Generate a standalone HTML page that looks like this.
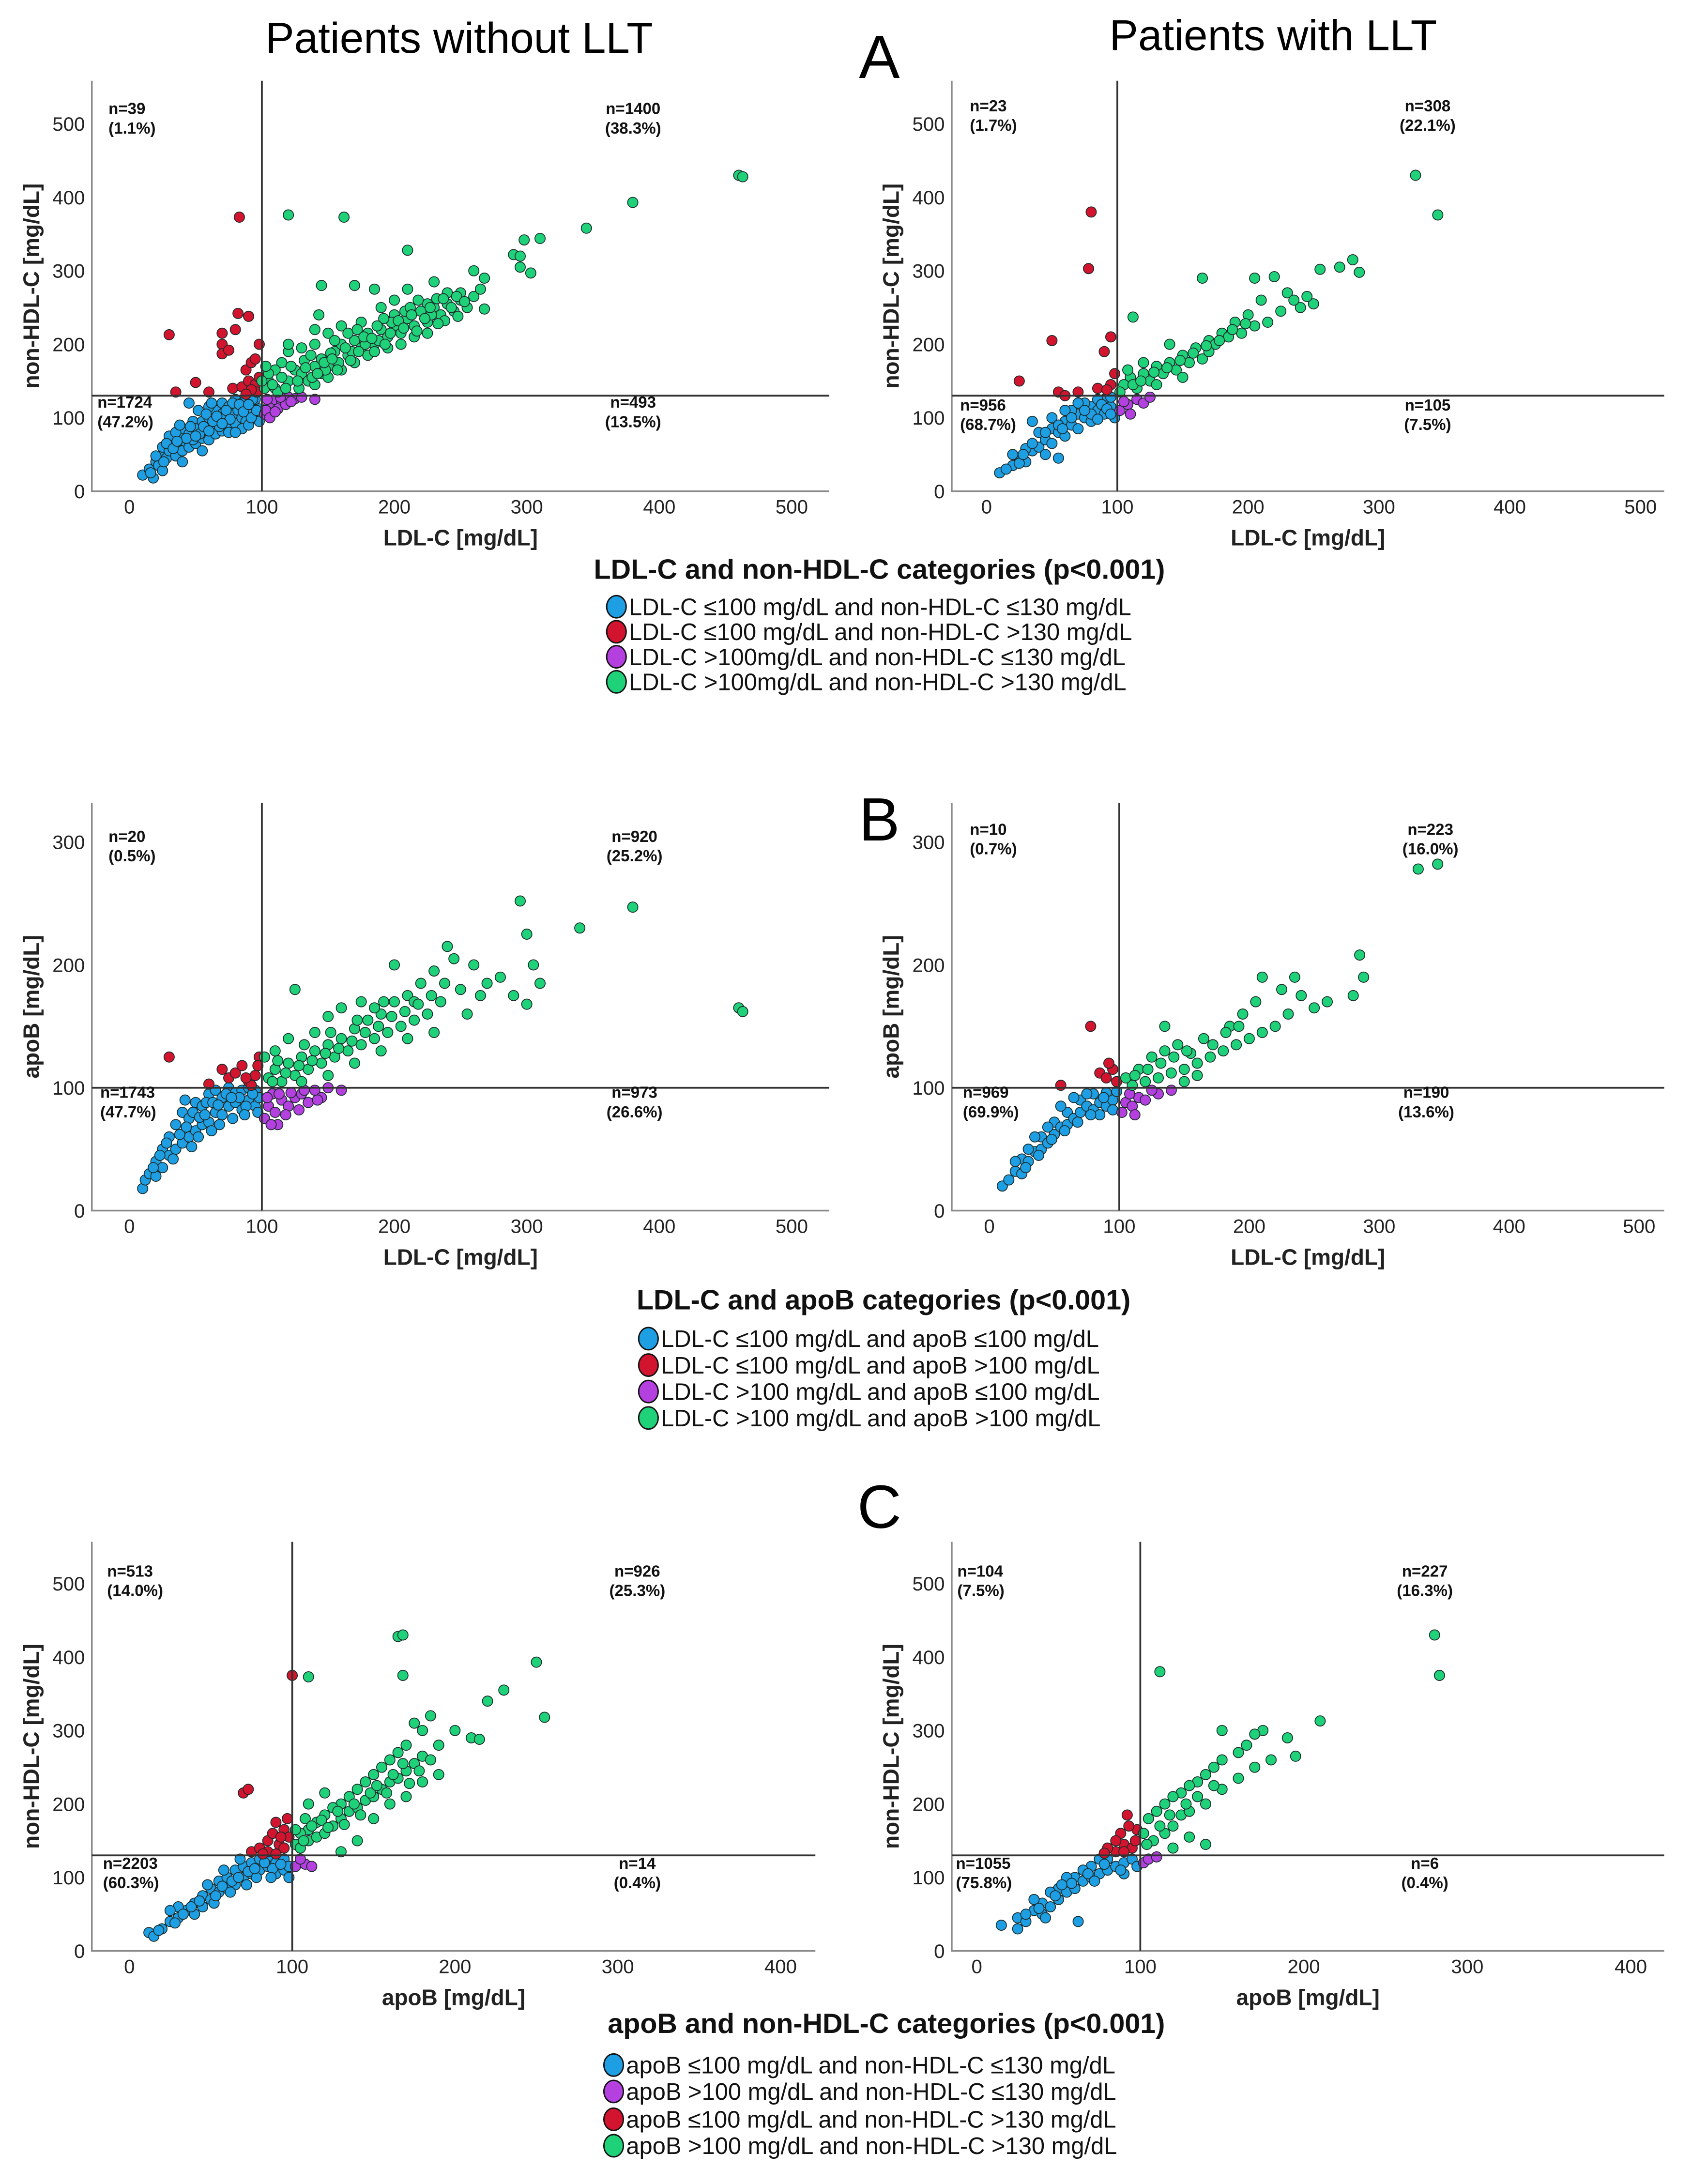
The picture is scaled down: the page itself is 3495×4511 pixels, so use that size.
<!DOCTYPE html>
<html><head><meta charset="utf-8"><style>
html,body{margin:0;padding:0;background:#fff;}
svg{display:block;}
text{font-family:"Liberation Sans Narrow","Liberation Sans",sans-serif;}
</style></head><body>
<svg id="fig" width="3495" height="4511" viewBox="0 0 1216 1569.5" xmlns="http://www.w3.org/2000/svg">
<rect width="1216" height="1569.5" fill="#fff"/>
<text x="330" y="38" font-size="31" text-anchor="middle" font-family="Liberation Sans">Patients without LLT</text>
<text x="915" y="36" font-size="31" text-anchor="middle" font-family="Liberation Sans">Patients with LLT</text>
<text x="632" y="56" font-size="44" text-anchor="middle" font-family="Liberation Sans">A</text>
<text x="632" y="604" font-size="44" text-anchor="middle" font-family="Liberation Sans">B</text>
<text x="632" y="1098" font-size="44" text-anchor="middle" font-family="Liberation Sans">C</text>
<g id="plots"></g>
<g id="legends"></g>
</svg>
<script>
// ===== data =====
const xTicksLDL = [0,100,200,300,400,500];
const xTicksApoB = [0,100,200,300,400];
const yTicksNonHDL = [0,100,200,300,400,500];
const yTicksApoB = [0,100,200,300];

const aLeftLabels = ["n=39","(1.1%)","n=1400","(38.3%)","n=1724","(47.2%)","n=493","(13.5%)"];
const aRightLabels = ["n=23","(1.7%)","n=308","(22.1%)","n=956","(68.7%)","n=105","(7.5%)"];
const bLeftLabels = ["n=20","(0.5%)","n=920","(25.2%)","n=1743","(47.7%)","n=973","(26.6%)"];
const bRightLabels = ["n=10","(0.7%)","n=223","(16.0%)","n=969","(69.9%)","n=190","(13.6%)"];
const cLeftLabels = ["n=513","(14.0%)","n=926","(25.3%)","n=2203","(60.3%)","n=14","(0.4%)"];
const cRightLabels = ["n=104","(7.5%)","n=227","(16.3%)","n=1055","(75.8%)","n=6","(0.4%)"];

const aLeftBlue = [[10,22],[15,30],[18,18],[20,40],[22,35],[25,50],[25,60],[28,45],[30,55],[32,70],[35,48],[35,62],[38,75],[40,55],[40,85],[42,68],[45,60],[45,78],[48,95],[50,65],[50,85],[52,110],[55,72],[55,95],[58,80],[60,70],[60,100],[62,88],[65,78],[65,110],[68,95],[70,82],[70,120],[72,100],[75,90],[75,115],[78,105],[80,92],[80,125],[82,110],[85,100],[85,120],[88,95],[88,128],[90,108],[92,118],[95,100],[95,125],[98,112],[98,95],[30,75],[35,80],[45,120],[60,115],[70,105],[85,85],[90,90],[55,55],[40,40],[25,28],[20,48],[28,65],[38,90],[48,70],[58,105],[68,88],[78,120],[92,100],[62,120],[75,80],[33,58],[43,72],[53,78],[63,95],[73,110],[83,118],[93,125],[96,110],[86,108],[76,98],[66,102],[56,88],[46,88],[36,68],[26,40],[16,25],[80,80],[90,118],[70,92],[60,82],[50,75]];
const aLeftRed = [[30,213],[83,373],[70,215],[80,220],[82,242],[90,238],[70,200],[70,187],[75,192],[98,200],[35,135],[50,148],[60,135],[78,140],[85,142],[88,165],[92,175],[95,180],[90,150],[95,145],[98,155],[96,135],[92,138],[88,132]];
const aLeftPurple = [[102,105],[105,115],[108,120],[110,125],[115,122],[120,128],[125,126],[130,128],[140,125],[103,110],[106,100],[112,112],[118,118],[104,125],[110,108],[114,128],[122,122]];
const aLeftGreen = [[460,430],[463,428],[380,393],[345,358],[298,342],[310,344],[210,328],[120,376],[162,373],[290,322],[295,320],[295,305],[303,297],[145,280],[170,280],[185,275],[210,275],[230,285],[260,300],[268,290],[268,248],[250,260],[240,270],[225,255],[200,240],[190,250],[175,230],[160,225],[150,215],[140,200],[130,195],[120,190],[115,175],[110,165],[105,150],[102,140],[110,140],[120,150],[125,165],[130,160],[140,170],[145,180],[150,170],[155,190],[160,200],[165,185],[170,205],[175,195],[180,215],[185,200],[190,220],[195,210],[200,225],[205,215],[210,235],[215,225],[220,245],[225,230],[230,250],[235,240],[240,255],[245,245],[250,270],[255,250],[260,265],[265,275],[135,150],[140,145],[145,160],[150,155],[160,165],[170,175],[180,185],[185,190],[195,195],[205,200],[215,210],[225,215],[112,135],[118,140],[128,140],[138,155],[148,165],[158,175],[168,190],[178,200],[188,205],[198,230],[208,245],[218,260],[228,240],[238,232],[248,238],[200,260],[165,215],[155,205],[140,220],[143,240],[120,200],[132,178],[152,188],[172,220],[192,235],[212,250],[232,262],[105,160],[108,145],[115,155],[122,170],[127,150],[133,168],[137,185],[142,160],[147,175],[153,180],[157,165],[163,195],[167,178],[173,190],[177,210],[183,208],[187,225],[193,200],[197,215],[203,232],[207,222],[213,240],[217,218],[223,235],[227,250],[233,228],[237,262],[243,250],[247,265],[253,258],[100,150],[103,170]];

const aRightBlue = [[10,25],[20,35],[25,45],[30,40],[35,55],[40,60],[45,70],[50,65],[50,85],[55,80],[60,75],[60,95],[65,90],[70,85],[70,105],[75,100],[80,95],[80,115],[85,110],[90,105],[90,125],[95,115],[98,100],[95,128],[40,80],[50,100],[30,58],[35,95],[65,110],[85,125],[75,120],[55,45],[20,50],[45,50],[60,110],[70,120],[80,105],[88,118],[92,112],[15,30],[25,38],[35,65],[45,80],[55,90],[65,100],[75,110],[85,98],[95,105],[28,50],[58,85]];
const aRightRed = [[25,150],[50,205],[80,380],[78,303],[95,210],[90,190],[55,135],[60,130],[70,135],[85,140],[95,145],[98,160],[92,138]];
const aRightPurple = [[102,110],[108,118],[115,125],[120,120],[110,105],[105,122],[125,128]];
const aRightGreen = [[328,430],[345,376],[280,315],[285,298],[270,305],[255,302],[250,255],[245,265],[240,250],[230,270],[220,292],[205,290],[165,290],[112,237],[200,240],[190,230],[180,215],[170,205],[160,195],[150,185],[140,175],[130,170],[120,160],[110,155],[105,145],[115,140],[125,150],[135,160],[145,165],[155,175],[165,180],[175,200],[185,210],[195,215],[205,225],[215,230],[225,245],[235,260],[210,260],[140,200],[150,155],[170,190],[130,145],[102,135],[108,165],[120,175],[112,145],[118,150],[128,162],[138,168],[148,178],[158,188],[168,198],[178,205],[188,220],[198,228]];

const bLeftBlue = [[10,18],[12,25],[15,30],[20,28],[20,40],[25,35],[25,50],[30,45],[30,60],[35,50],[35,70],[40,55],[40,80],[45,60],[45,75],[50,65],[50,88],[55,70],[55,85],[60,72],[60,95],[65,80],[65,98],[70,78],[70,92],[75,85],[75,100],[80,88],[80,96],[85,82],[85,98],[90,90],[90,100],[95,85],[95,98],[98,92],[28,55],[38,62],[48,80],[58,88],[68,70],[78,75],[88,85],[42,90],[52,60],[62,65],[33,42],[43,68],[53,76],[63,88],[73,95],[83,92],[93,95],[18,35],[23,45],[47,52],[57,78],[67,86],[77,92],[87,78],[97,80]];
const bLeftRed = [[30,125],[70,115],[75,108],[80,112],[85,118],[90,105],[95,110],[98,125],[92,102],[88,108],[97,118],[60,103]];
const bLeftPurple = [[102,75],[105,85],[110,80],[115,90],[120,85],[125,92],[130,95],[140,98],[150,100],[108,95],[118,78],[135,88],[145,92],[112,70],[160,98],[104,92],[122,96],[128,82],[107,70],[113,95],[132,98],[142,90]];
const bLeftGreen = [[380,247],[340,230],[295,252],[300,225],[305,200],[300,168],[310,185],[460,165],[463,162],[240,215],[245,205],[260,200],[270,185],[280,190],[290,175],[230,195],[220,185],[210,175],[200,170],[190,160],[180,155],[170,148],[160,140],[150,135],[140,130],[130,125],[120,120],[110,115],[105,108],[115,105],[125,110],[135,115],[145,120],[155,125],[165,130],[175,135],[185,140],[195,145],[205,150],[215,155],[225,160],[235,170],[250,180],[150,158],[140,145],[125,180],[160,165],[230,145],[210,140],[190,130],[170,120],[150,110],[130,105],[102,125],[200,200],[175,170],[265,175],[255,160],[110,130],[120,140],[185,165],[215,170],[108,105],[118,112],[128,118],[138,122],[148,128],[158,132],[168,138],[178,145],[188,150],[198,158],[208,162],[218,168],[228,175],[238,185],[112,122],[132,135],[152,145],[172,155],[192,170]];

const bRightBlue = [[10,20],[15,25],[20,32],[25,30],[25,42],[30,40],[35,48],[40,50],[40,60],[45,55],[50,62],[50,72],[55,68],[60,70],[60,80],[65,75],[70,80],[70,90],[75,85],[80,82],[80,95],[85,88],[90,85],[90,96],[95,90],[98,97],[35,60],[55,85],[65,92],[45,68],[75,95],[85,78],[20,40],[30,50],[28,35],[38,45],[48,58],[58,65],[68,72],[78,78],[88,92],[95,82]];
const bRightRed = [[78,150],[55,102],[85,112],[90,108],[95,115],[98,105],[92,120]];
const bRightPurple = [[102,80],[105,88],[110,85],[115,92],[120,90],[130,95],[140,98],[108,95],[125,98],[112,78]];
const bRightGreen = [[330,278],[345,282],[285,208],[288,190],[280,175],[260,170],[250,165],[235,190],[210,190],[240,175],[230,160],[220,150],[210,145],[200,140],[190,135],[180,130],[170,125],[160,120],[150,115],[140,112],[130,108],[120,105],[110,102],[105,108],[115,115],[125,125],[135,130],[145,135],[155,128],[165,140],[185,150],[195,160],[205,170],[225,180],[135,150],[160,110],[150,105],[112,110],[122,115],[132,120],[142,125],[152,130],[172,135],[182,145],[192,150]];

const cLeftBlue = [[12,25],[15,20],[20,30],[25,40],[30,45],[35,55],[40,50],[40,65],[45,60],[45,75],[50,70],[50,85],[55,80],[55,95],[60,85],[60,100],[65,90],[65,110],[70,100],[70,115],[75,105],[75,120],[80,110],[80,125],[85,115],[85,128],[90,105],[90,120],[95,110],[95,125],[98,115],[30,60],[25,55],[58,110],[68,125],[98,100],[48,90],[52,65],[62,80],[72,90],[78,100],[88,112],[33,50],[38,60],[43,68],[53,75],[63,95],[73,108],[83,120],[93,118],[28,38],[18,28],[57,88],[67,100],[77,112],[87,100]];
const cLeftPurple = [[102,115],[108,118],[112,115],[105,125]];
const cLeftRed = [[70,215],[73,220],[100,375],[75,135],[80,140],[85,150],[88,160],[90,175],[92,145],[95,140],[95,165],[98,155],[97,180],[85,135],[90,132],[82,132],[93,155]];
const cLeftGreen = [[165,428],[168,430],[250,393],[255,318],[220,340],[230,355],[168,375],[110,373],[200,300],[210,290],[215,288],[190,280],[185,320],[180,300],[175,310],[170,280],[165,270],[160,260],[155,250],[150,240],[145,230],[140,220],[135,210],[130,200],[125,195],[120,185],[115,175],[110,165],[105,160],[102,145],[105,140],[110,150],[115,155],[120,160],[125,170],[130,180],[135,190],[140,195],[145,205],[150,210],[155,220],[160,230],[165,235],[170,245],[175,255],[180,265],[185,260],[190,240],[130,135],[140,150],[150,180],[160,200],[120,215],[110,200],[180,230],[170,210],[108,180],[112,170],[118,178],[122,168],[128,190],[132,172],[138,200],[142,185],[148,215],[152,225],[158,215],[162,240],[168,255],[172,228],[178,245],[102,165],[107,150]];

const cRightBlue = [[15,35],[25,30],[25,45],[30,40],[35,55],[40,50],[40,65],[45,60],[50,70],[50,85],[55,80],[60,85],[60,100],[65,95],[70,100],[70,115],[75,105],[80,110],[80,125],[85,115],[90,120],[90,105],[95,125],[98,115],[35,70],[45,80],[55,100],[65,110],[75,125],[30,50],[38,58],[48,75],[58,92],[68,105],[78,118],[88,110],[42,45],[62,40],[52,90],[72,95]];
const cRightPurple = [[102,120],[105,125],[110,128]];
const cRightRed = [[85,135],[90,145],[95,140],[88,160],[92,185],[97,150],[80,140],[98,165],[93,170],[85,150],[78,133],[90,135]];
const cRightGreen = [[280,430],[283,375],[210,313],[112,380],[175,300],[170,295],[190,290],[195,265],[165,280],[160,270],[150,260],[150,300],[145,250],[140,240],[135,230],[130,225],[125,215],[120,210],[115,200],[110,190],[105,180],[102,160],[108,150],[115,160],[120,170],[125,185],[130,190],[140,200],[150,220],[160,235],[170,250],[180,260],[140,145],[130,155],[120,140],[104,145],[112,170],[118,185],[128,200],[135,210],[145,225]];

const COL = {blue:"#1e9fe3", red:"#d3142e", purple:"#b440e0", green:"#1fd27a"};
const NS = "http://www.w3.org/2000/svg";
function mk(tag, attrs, parent){const e=document.createElementNS(NS,tag);for(const k in attrs)e.setAttribute(k,attrs[k]);parent.appendChild(e);return e;}

const panels = [
 {id:"a-left", L:66,R:596,T:58,B:353, px0:93,kx:0.952, py0:353,ky:0.528, xt:xTicksLDL, yt:yTicksNonHDL, rx:100, ry:130, xtitle:"LDL-C [mg/dL]", ytitle:"non-HDL-C [mg/dL]", labels:aLeftLabels, lx:[78,455,70,455], ly:[82,82,293,293], series:[["blue",aLeftBlue],["red",aLeftRed],["purple",aLeftPurple],["green",aLeftGreen]]},
 {id:"a-right", L:684,R:1196,T:58,B:353, px0:709,kx:0.94, py0:353,ky:0.528, xt:xTicksLDL, yt:yTicksNonHDL, rx:100, ry:130, xtitle:"LDL-C [mg/dL]", ytitle:"non-HDL-C [mg/dL]", labels:aRightLabels, lx:[697,1026,690,1026], ly:[80,80,295,295], series:[["blue",aRightBlue],["red",aRightRed],["purple",aRightPurple],["green",aRightGreen]]},
 {id:"b-left", L:66,R:596,T:577,B:870, px0:93,kx:0.952, py0:870,ky:0.883, xt:xTicksLDL, yt:yTicksApoB, rx:100, ry:100, xtitle:"LDL-C [mg/dL]", ytitle:"apoB [mg/dL]", labels:bLeftLabels, lx:[78,456,72,456], ly:[605,605,789,789], series:[["blue",bLeftBlue],["red",bLeftRed],["purple",bLeftPurple],["green",bLeftGreen]]},
 {id:"b-right", L:684,R:1196,T:577,B:870, px0:711,kx:0.934, py0:870,ky:0.883, xt:xTicksLDL, yt:yTicksApoB, rx:100, ry:100, xtitle:"LDL-C [mg/dL]", ytitle:"apoB [mg/dL]", labels:bRightLabels, lx:[697,1028,692,1025], ly:[600,600,789,789], series:[["blue",bRightBlue],["red",bRightRed],["purple",bRightPurple],["green",bRightGreen]]},
 {id:"c-left", L:66,R:586,T:1108,B:1402, px0:93,kx:1.17, py0:1402,ky:0.528, xt:xTicksApoB, yt:yTicksNonHDL, rx:100, ry:130, xtitle:"apoB [mg/dL]", ytitle:"non-HDL-C [mg/dL]", labels:cLeftLabels, lx:[77,458,74,458], ly:[1133,1133,1343,1343], series:[["blue",cLeftBlue],["purple",cLeftPurple],["red",cLeftRed],["green",cLeftGreen]]},
 {id:"c-right", L:684,R:1196,T:1108,B:1402, px0:702,kx:1.175, py0:1402,ky:0.528, xt:xTicksApoB, yt:yTicksNonHDL, rx:100, ry:130, xtitle:"apoB [mg/dL]", ytitle:"non-HDL-C [mg/dL]", labels:cRightLabels, lx:[688,1024,687,1024], ly:[1133,1133,1343,1343], series:[["blue",cRightBlue],["purple",cRightPurple],["red",cRightRed],["green",cRightGreen]]}
];

const plotsG = document.getElementById("plots");
panels.forEach(p=>{
  const g = mk("g",{},plotsG);
  
  
  const sx = v => p.px0 + v*p.kx;
  const sy = v => p.py0 - v*p.ky;
  const ax = mk("path",{d:`M${p.L},${p.T} V${p.B} H${p.R}`,fill:"none",stroke:"#8a8a8a","stroke-width":1.2},g);
  
  
  p.yt.forEach(v=>{
    const t = mk("text",{x:p.L-5,y:sy(v)+5,"font-size":14,"text-anchor":"end",fill:"#222"},g);
    t.textContent = v;
    
    
  });
  p.xt.forEach(v=>{
    const t = mk("text",{x:sx(v),y:p.B+16,"font-size":14,"text-anchor":"middle",fill:"#222"},g);
    t.textContent = v;
    
    
  });
  const xt = mk("text",{x:(p.L+p.R)/2,y:p.B+39,"font-size":16,"font-weight":"bold","text-anchor":"middle",fill:"#222"},g);
  xt.textContent = p.xtitle;
  
  
  const yx = p.L-38, yy=(p.T+p.B)/2;
  const yt = mk("text",{x:yx,y:yy,"font-size":16,"font-weight":"bold","text-anchor":"middle",fill:"#222",transform:`rotate(-90 ${yx} ${yy})`},g);
  yt.textContent = p.ytitle;
  
  
  p.series.forEach(([c,arr])=>{
    const sg = mk("g",{},g);
    
    
    arr.forEach(([x,y])=>{
      const d = mk("circle",{cx:sx(x),cy:sy(y),r:3.7,fill:COL[c],stroke:"#1a2a2a","stroke-width":0.6},sg);
      
      
    });
  });
  const vl = mk("line",{x1:sx(p.rx),x2:sx(p.rx),y1:p.T,y2:p.B,stroke:"#333","stroke-width":1.3},g);
  
  
  const hl = mk("line",{x1:p.L,x2:p.R,y1:sy(p.ry),y2:sy(p.ry),stroke:"#333","stroke-width":1.3},g);
  
  
  for(let i=0;i<4;i++){
    const anchor = (i%2===0) ? "start" : "middle";
    [0,1].forEach(j=>{
      const t = mk("text",{x:p.lx[i],y:p.ly[i]+j*14,"font-size":11.5,"font-weight":"bold","text-anchor":anchor,fill:"#111"},g);
      t.textContent = p.labels[i*2+j];
      
      
    });
  }
});

const legends = [
 {title:"LDL-C and non-HDL-C categories (p<0.001)", tx:632, ty:416, cx:443, ys:[436,454,472,490], items:[["blue","LDL-C ≤100 mg/dL and non-HDL-C ≤130 mg/dL"],["red","LDL-C ≤100 mg/dL and non-HDL-C >130 mg/dL"],["purple","LDL-C >100mg/dL and non-HDL-C ≤130 mg/dL"],["green","LDL-C >100mg/dL and non-HDL-C >130 mg/dL"]]},
 {title:"LDL-C and apoB categories (p<0.001)", tx:635, ty:941, cx:466, ys:[962,981,1000,1019], items:[["blue","LDL-C ≤100 mg/dL and apoB ≤100 mg/dL"],["red","LDL-C ≤100 mg/dL and apoB >100 mg/dL"],["purple","LDL-C >100 mg/dL and apoB ≤100 mg/dL"],["green","LDL-C >100 mg/dL and apoB >100 mg/dL"]]},
 {title:"apoB and non-HDL-C categories (p<0.001)", tx:637, ty:1461, cx:441, ys:[1484,1503,1523,1542], items:[["blue","apoB ≤100 mg/dL and non-HDL-C ≤130 mg/dL"],["purple","apoB >100 mg/dL and non-HDL-C ≤130 mg/dL"],["red","apoB ≤100 mg/dL and non-HDL-C >130 mg/dL"],["green","apoB >100 mg/dL and non-HDL-C >130 mg/dL"]]}
];
const legG = document.getElementById("legends");
legends.forEach(L=>{
  const g = mk("g",{},legG);
  
  
  const t = mk("text",{x:L.tx,y:L.ty,"font-size":20,"font-weight":"bold","text-anchor":"middle",fill:"#111","font-family":"DejaVu Sans Condensed, DejaVu Sans, sans-serif"},g);
  t.textContent = L.title;
  
  
  L.items.forEach(([c,lab],i)=>{
    const e = mk("ellipse",{cx:L.cx,cy:L.ys[i],rx:7,ry:8,fill:COL[c],stroke:"#111","stroke-width":1},g);
    
    
    const tt = mk("text",{x:L.cx+9,y:L.ys[i]+6,"font-size":17,fill:"#111","font-family":"DejaVu Sans Condensed, DejaVu Sans, sans-serif"},g);
    tt.textContent = lab;
    
    
  });
});
</script>
</body></html>
